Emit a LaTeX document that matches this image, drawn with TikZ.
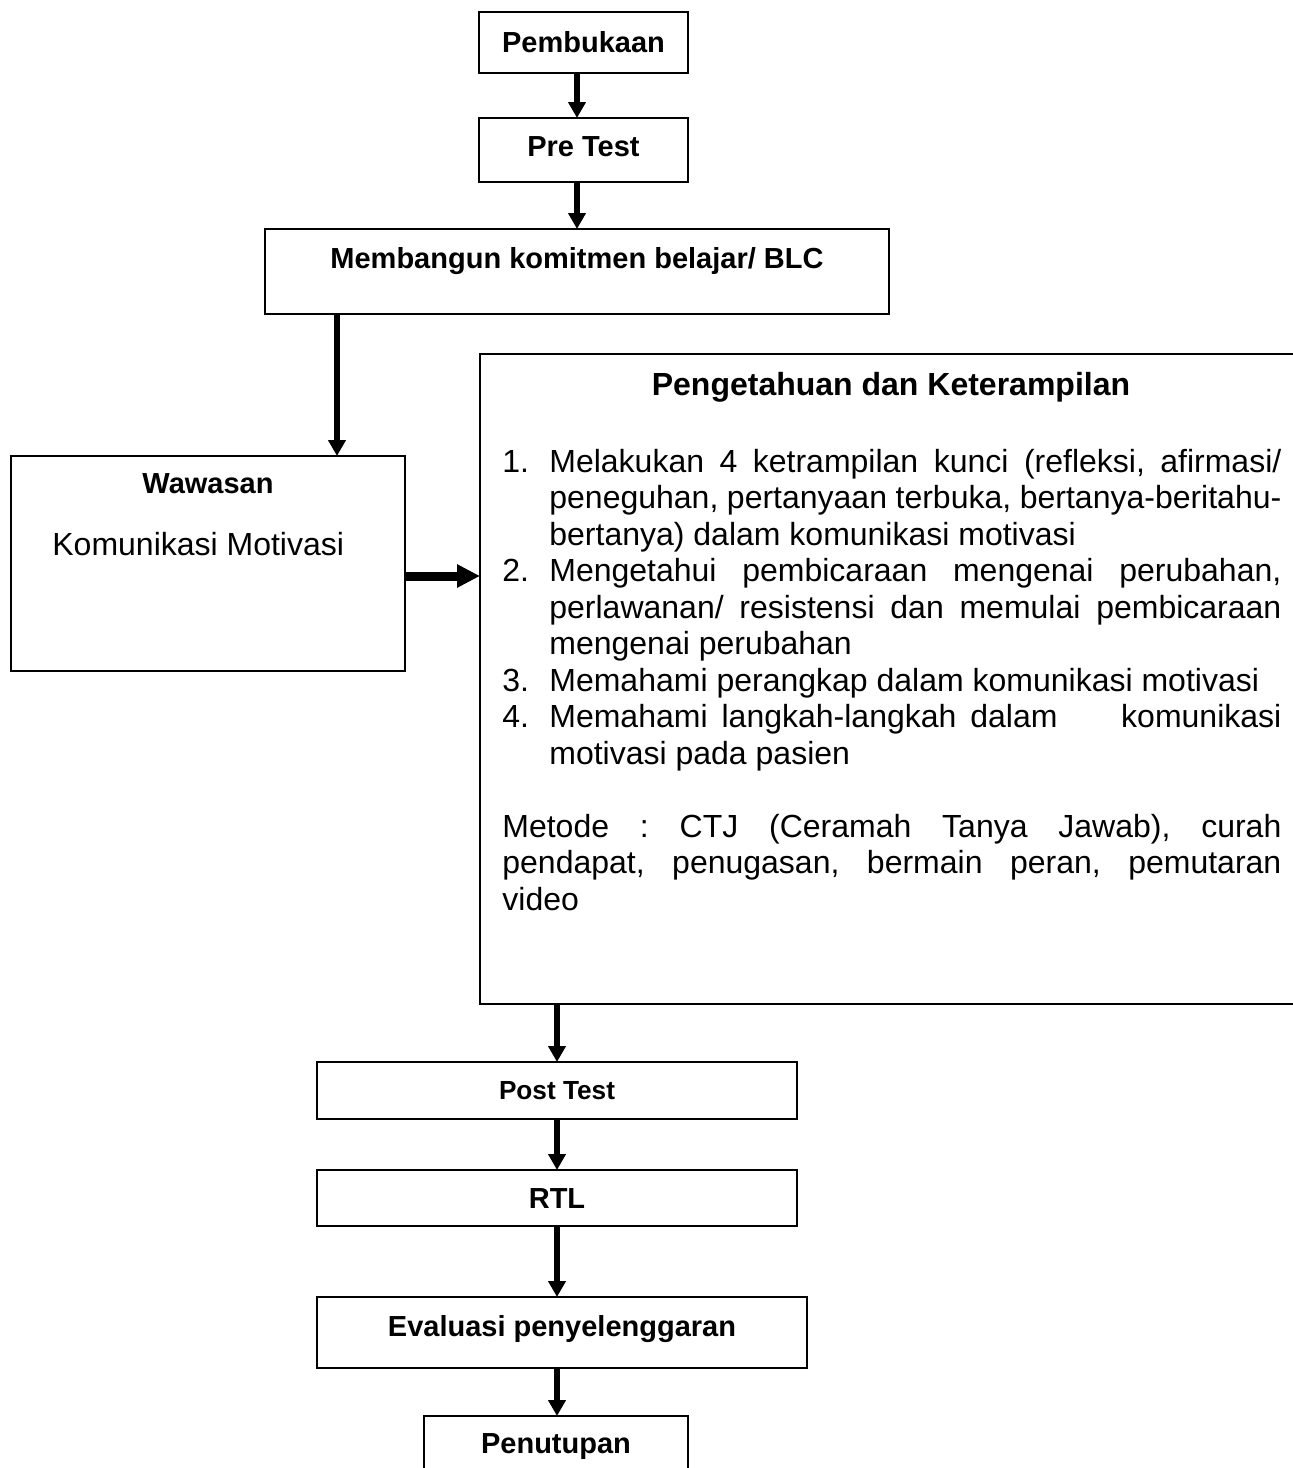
\documentclass[tikz,border=0pt]{standalone}
\usepackage{fontspec}
\setmainfont{Liberation Sans}
\usetikzlibrary{arrows.meta}
\begin{document}
\begin{tikzpicture}[x=0.5pt,y=-0.5pt,
  box/.style={draw, line width=0.85pt, inner sep=0pt, outer sep=0pt},
  lbl/.style={anchor=base, inner sep=0pt, font=\bfseries\fontsize{14.5pt}{17pt}\selectfont},
  bodytext/.style={anchor=base west, inner sep=0pt, font=\fontsize{16pt}{18.25pt}\selectfont\frenchspacing},
  arr/.style={line width=3.3pt, -{Triangle[length=8pt,width=8.5pt]}},
  harr/.style={line width=4.5pt, -{Triangle[length=11.5pt,width=11pt]}}
]
\useasboundingbox (0,0) rectangle (1293,1468);
\clip (0,0) rectangle (1293,1468);

% boxes
\node[box, minimum width=104.5pt, minimum height=30.5pt] (b1) at (583.5,42.5) {};
\node[box, minimum width=104.5pt, minimum height=32pt]   (b2) at (583.5,150) {};
\node[box, minimum width=312pt,   minimum height=42.5pt] (b3) at (577,271.5) {};
\node[box, minimum width=197pt,   minimum height=107.5pt] (ww) at (208,563.5) {};
\node[box, minimum width=415pt,   minimum height=325pt] (pk) at (895,679) {};
\node[box, minimum width=240pt,   minimum height=28.5pt] (b5) at (557,1090.5) {};
\node[box, minimum width=240pt,   minimum height=28pt]   (b6) at (557,1198) {};
\node[box, minimum width=245pt,   minimum height=35.5pt] (b7) at (562,1332.5) {};
\node[box, minimum width=132pt,   minimum height=42pt]   (b8) at (556,1458) {};

% texts
\node[lbl] (t1) at (583.5,52) {Pembukaan};
\node[lbl] (t2) at (583.5,156) {Pre Test};
\node[lbl] (t3) at (577,268) {Membangun komitmen belajar/ BLC};
\node[lbl] (tw) at (208,493) {Wawasan};
\node[bodytext] (tk) at (52,555) {Komunikasi Motivasi};
\node[lbl, font=\bfseries\fontsize{16pt}{19pt}\selectfont] (tp) at (891,395) {Pengetahuan dan Keterampilan};
\node[bodytext] (body) at (502,472) {\vtop{\baselineskip=18.25pt\lineskiplimit=-100pt\lineskip=0pt
\hbox to 389.5pt{\makebox[23.5pt][l]{1.}\makebox[366pt][s]{Melakukan 4 ketrampilan kunci (refleksi, afirmasi/}}
\hbox to 389.5pt{\hspace{23.5pt}\makebox[366pt][s]{peneguhan, pertanyaan terbuka, bertanya-beritahu-}}
\hbox to 389.5pt{\hspace{23.5pt}bertanya) dalam komunikasi motivasi\hfill}
\hbox to 389.5pt{\makebox[23.5pt][l]{2.}\makebox[366pt][s]{Mengetahui pembicaraan mengenai perubahan,}}
\hbox to 389.5pt{\hspace{23.5pt}\makebox[366pt][s]{perlawanan/ resistensi dan memulai pembicaraan}}
\hbox to 389.5pt{\hspace{23.5pt}mengenai perubahan\hfill}
\hbox to 389.5pt{\makebox[23.5pt][l]{3.}Memahami perangkap dalam komunikasi motivasi\hfill}
\hbox to 389.5pt{\makebox[23.5pt][l]{4.}\hbox to 366pt{Memahami\hspace{7pt}langkah-langkah\hspace{7pt}dalam\hfill komunikasi}}
\hbox to 389.5pt{\hspace{23.5pt}motivasi pada pasien\hfill}
\hbox{}
\hbox to 389.5pt{\makebox[389.5pt][s]{Metode : CTJ (Ceramah Tanya Jawab), curah}}
\hbox to 389.5pt{\makebox[389.5pt][s]{pendapat, penugasan, bermain peran, pemutaran}}
\hbox to 389.5pt{video\hfill}
}};
\node[lbl, font=\bfseries\fontsize{13.1pt}{16pt}\selectfont] (t5) at (557,1099) {Post Test};
\node[lbl] (t6) at (557,1208) {RTL};
\node[lbl] (t7) at (562,1336) {Evaluasi penyelenggaran};
\node[lbl] (t8) at (556,1453) {Penutupan};

% arrow guide coordinates
\coordinate (ax) at (577,0);
\coordinate (bx) at (337,0);
\coordinate (lx) at (557,0);
\coordinate (ay) at (0,576);

% connectors
\draw[arr] (b1.south -| ax) -- (b2.north -| ax);
\draw[arr] (b2.south -| ax) -- (b3.north -| ax);
\draw[arr] (b3.south -| bx) -- (ww.north -| bx);
\draw[harr] (ww.east |- ay) -- (pk.west |- ay);
\draw[arr] (pk.south -| lx) -- (b5.north -| lx);
\draw[arr] (b5.south -| lx) -- (b6.north -| lx);
\draw[arr] (b6.south -| lx) -- (b7.north -| lx);
\draw[arr] (b7.south -| lx) -- (b8.north -| lx);
\end{tikzpicture}
\end{document}
